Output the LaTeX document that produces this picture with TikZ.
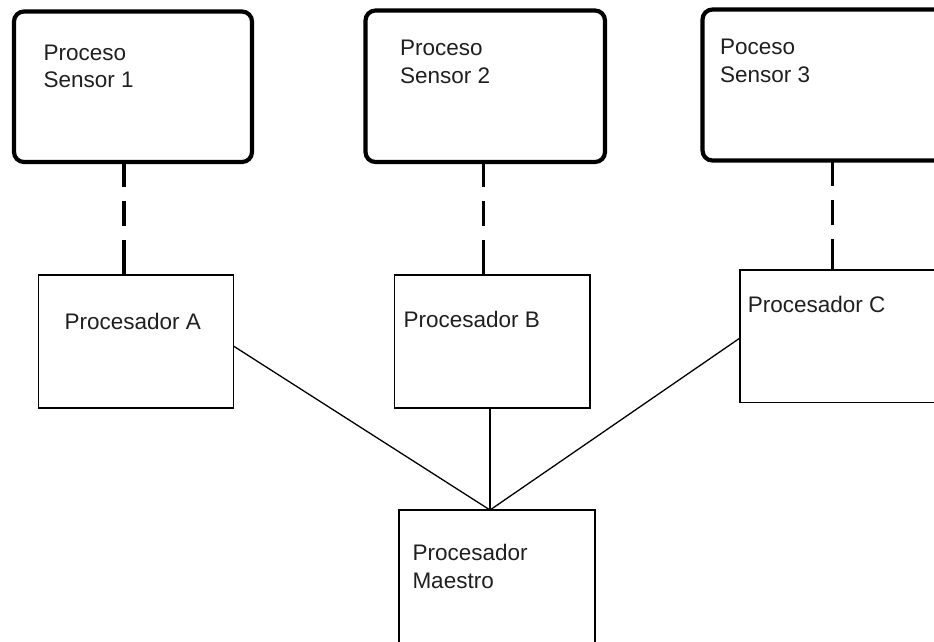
\documentclass[tikz,border=0pt]{standalone}
\usepackage{fontspec}
\setmainfont{Liberation Sans}
\usetikzlibrary{calc}
\begin{document}
\begin{tikzpicture}[x=1pt,y=-1pt,
  sensorbox/.style={draw, line width=4.2pt, rounded corners=10pt, inner sep=0pt, outer sep=0pt, anchor=north west},
  procbox/.style={draw, line width=1.6pt, inner sep=0pt, outer sep=0pt, anchor=north west},
  lbl/.style={anchor=base west, inner sep=0pt, align=left, text=black!88, font=\fontsize{22.5}{27.5}\selectfont},
  link/.style={line width=1.3pt},
  dashlink/.style={line width=3.2pt, dash pattern=on 25pt off 14pt on 25pt off 14pt on 40pt off 0pt}]
  \clip (0,0) rectangle (934,641);

  % sensor processes (rounded, heavy outline)
  \node[sensorbox, minimum width=238pt, minimum height=150.5pt] (s1) at (14,11.5) {};
  \node[sensorbox, minimum width=239.5pt, minimum height=151.5pt] (s2) at (365.5,10.5) {};
  \node[sensorbox, minimum width=260pt, minimum height=151pt] (s3) at (702.5,9.5) {};

  % processors
  \node[procbox, minimum width=195pt, minimum height=133.2pt] (A) at (38.5,274.8) {};
  \node[procbox, minimum width=195.5pt, minimum height=133pt] (B) at (394.5,275) {};
  \node[procbox, minimum width=220pt, minimum height=132.5pt] (C) at (740,270) {};
  \node[procbox, minimum width=196pt, minimum height=160pt] (M) at (399,510) {};

  % labels (multi-line labels are placed by their last baseline)
  \node[lbl] (t1) at (43.3,87.7) {Proceso\\Sensor 1};
  \node[lbl] (t2) at (400,83.3) {Proceso\\Sensor 2};
  \node[lbl] (t3) at (720,82.3) {Poceso\\Sensor 3};
  \node[lbl] (tA) at (64.3,329.3) {Procesador A};
  \node[lbl] (tB) at (403.3,327.7) {Procesador B};
  \node[lbl] (tC) at (747.7,312.3) {Procesador C};
  \node[lbl] (tM) at (412.3,588.3) {Procesador\\Maestro};

  % dashed links sensor -> processor
  \coordinate (d1) at (124,0);
  \coordinate (d2) at (483.3,0);
  \coordinate (d3) at (832.7,0);
  \draw[dashlink] (s1.south -| d1) -- (A.north -| d1);
  \draw[dashlink] (s2.south -| d2) -- (B.north -| d2);
  \draw[dashlink] (s3.south -| d3) -- (C.north -| d3);

  % processors -> master
  \coordinate (jx) at (490,0);
  \draw[link] (B.south -| jx) -- (M.north -| jx);
  \draw[link] ($(A.north east)!0.535!(A.south east)$) -- (M.north -| jx);
  \draw[link] ($(C.north west)!0.513!(C.south west)$) -- (M.north -| jx);
\end{tikzpicture}
\end{document}
